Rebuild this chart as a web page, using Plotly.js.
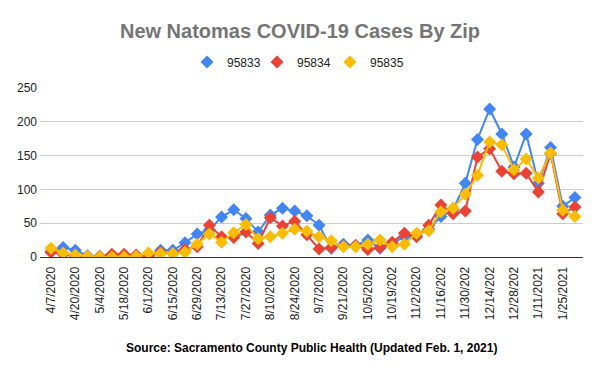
<!DOCTYPE html>
<html><head><meta charset="utf-8">
<script src="https://cdn.plot.ly/plotly-3.0.1.min.js"></script>
<style>html,body{margin:0;padding:0;background:#fff}#c{width:600px;height:373px}</style>
</head><body><div id="c"></div>
<script>
const dates = ["4/7/2020","4/13/2020","4/20/2020","4/27/2020","5/4/2020","5/11/2020","5/18/2020","5/25/2020","6/1/2020","6/8/2020","6/15/2020","6/22/2020","6/29/2020","7/6/2020","7/13/2020","7/20/2020","7/27/2020","8/3/2020","8/10/2020","8/17/2020","8/24/2020","8/31/2020","9/7/2020","9/14/2020","9/21/2020","9/28/2020","10/5/2020","10/12/2020","10/19/2020","10/26/2020","11/2/2020","11/9/2020","11/16/2020","11/23/2020","11/30/2020","12/7/2020","12/14/2020","12/21/2020","12/28/2020","1/4/2021","1/11/2021","1/18/2021","1/25/2021","2/1/2021"];
const zip95833 = [8,14,10,2,0,1,1,2,2,10,10,21,34,40,59,70,57,37,62,72,68,61,47,13,19,17,25,13,20,30,31,41,60,70,109,174,219,182,133,182,109,162,75,88];
const zip95834 = [7,4,2,0,1,4,4,3,1,7,5,11,15,47,30,29,37,20,58,46,53,33,12,14,16,17,11,14,22,35,30,47,77,64,68,148,160,127,123,124,96,153,64,74];
const zip95835 = [13,6,3,1,0,0,0,1,6,5,5,7,19,34,22,36,48,27,30,35,41,38,30,24,15,15,19,25,15,19,35,39,67,72,93,121,170,166,129,145,117,154,69,60];
const tickDates = ["4/7/2020","4/20/2020","5/4/2020","5/18/2020","6/1/2020","6/15/2020","6/29/2020","7/13/2020","7/27/2020","8/10/2020","8/24/2020","9/7/2020","9/21/2020","10/5/2020","10/19/2020","11/2/2020","11/16/2020","11/30/2020","12/14/2020","12/28/2020","1/11/2021","1/25/2021"];
const tickLabels = ["4/7/2020","4/20/2020","5/4/2020","5/18/2020","6/1/2020","6/15/2020","6/29/2020","7/13/2020","7/27/2020","8/10/2020","8/24/2020","9/7/2020","9/21/2020","10/5/2020","10/19/202","11/2/2020","11/16/202","11/30/202","12/14/202","12/28/202","1/11/2021","1/25/2021"];
const names = ["95833","95834","95835"];
const colors = ["#4285F4","#EA4335","#FBBC04"];
const series = [zip95833, zip95834, zip95835];
const legendIds = ["legend","legend2","legend3"];
const traces = series.map((s,i)=>({
  x: dates, y: s, name: names[i], type: 'scatter', mode: 'lines+markers', showlegend: false,
  line: {color: colors[i], width: 2},
  marker: {symbol: 'diamond', size: 10, color: colors[i]}
}));
// legend entries: marker-only icons, one legend each for exact spacing
names.forEach((n,i)=>traces.push({
  x: [null], y: [null], name: n, type: 'scatter', mode: 'markers', showlegend: true, legend: legendIds[i],
  marker: {symbol: 'diamond', size: 10, color: colors[i]}
}));
const legendBase = {orientation: 'h', xanchor: 'left', y: 1.154, yanchor: 'middle', font: {size: 12, color: '#222'}, bgcolor: 'rgba(0,0,0,0)'};
const layout = {
  width: 600, height: 373,
  margin: {l: 40, r: 17, t: 88, b: 116},
  paper_bgcolor: '#fff', plot_bgcolor: '#fff',
  font: {family: 'Liberation Sans, Arial, sans-serif', color: '#222', size: 12},
  title: {text: '<b>New Natomas COVID-19 Cases By Zip</b>', font: {size: 20, color: '#757575'}, x: 0.5, xanchor: 'center', y: 0.917, yanchor: 'middle'},
  showlegend: true,
  legend: Object.assign({}, legendBase, {x: 0.2707}),
  legend2: Object.assign({}, legendBase, {x: 0.3996}),
  legend3: Object.assign({}, legendBase, {x: 0.534}),
  xaxis: {type: 'category', range: [-0.9, 43.66], tickmode: 'array', tickvals: tickDates, ticktext: tickLabels,
    tickangle: -90, showgrid: false, showline: true, linecolor: '#333', linewidth: 1, ticks: '', ticklabelstandoff: 4, tickfont: {size: 12, color: '#222'}},
  yaxis: {range: [0, 250], dtick: 50, gridcolor: '#ccc', zeroline: false, showline: false, ticks: '', ticklabelstandoff: 2, tickfont: {size: 12, color: '#222'}},
  annotations: [{text: '<b>Source: Sacramento County Public Health (Updated Feb. 1, 2021)</b>', xref: 'paper', yref: 'paper', x: 0.5, xanchor: 'center', y: -0.538, yanchor: 'middle', showarrow: false, font: {size: 12, color: '#000'}}]
};
Plotly.newPlot('c', traces, layout, {displayModeBar: false, staticPlot: true});
</script></body></html>
